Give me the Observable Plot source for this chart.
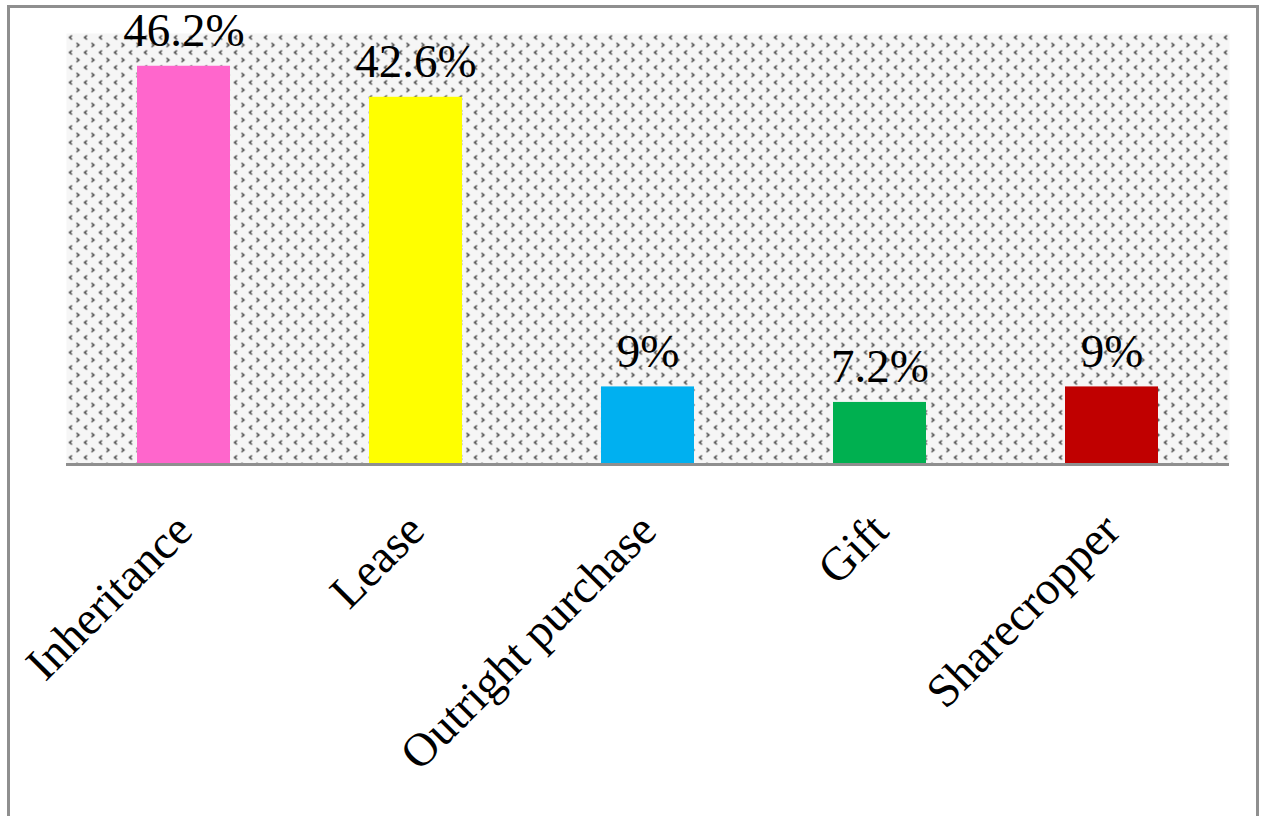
<!DOCTYPE html>
<html>
<head>
<meta charset="utf-8">
<script src="https://cdn.jsdelivr.net/npm/d3@7"></script>
<script src="https://cdn.jsdelivr.net/npm/@observablehq/plot@0.6"></script>
<style>
  html, body { margin: 0; padding: 0; background: #fff; }
  #wrap { position: relative; width: 1264px; height: 816px; overflow: hidden; }
  #border { position: absolute; left: 7px; top: 5px; width: 1252px; height: 820px; border: 3px solid #8f8f8f; box-sizing: border-box; pointer-events: none; }
  #chart { position: absolute; left: 0; top: 0; }
</style>
</head>
<body>
<div id="wrap"><div id="chart"></div><div id="border"></div></div>
<script>
const categories = ["Inheritance", "Lease", "Outright purchase", "Gift", "Sharecropper"];
const values = [46.2, 42.6, 9, 7.2, 9];
const labels = ["46.2%", "42.6%", "9%", "7.2%", "9%"];
const colors = ["#ff66cc", "#ffff00", "#00b0f0", "#00b050", "#c00000"];

const data = categories.map((c, i) => ({category: c, value: values[i], label: labels[i], color: colors[i]}));

const font = "'Liberation Serif', 'Times New Roman', serif";

const plot = Plot.plot({
  width: 1264,
  height: 816,
  marginLeft: 66,
  marginRight: 35,
  marginTop: 33,
  marginBottom: 352,
  style: {fontFamily: font, background: "transparent", color: "#000"},
  x: {domain: categories, paddingInner: 0.6, paddingOuter: 0.3, label: null},
  y: {domain: [0, 50], axis: null},
  marks: [
    Plot.frame({fill: "url(#dotpat)", stroke: "none"}),
    Plot.barY(data, {x: "category", y: "value", fill: "color"}),
    Plot.ruleY([0], {stroke: "#8f8f8f", strokeWidth: 3}),
    Plot.text(data, {x: "category", y: "value", text: "label", lineAnchor: "bottom", dy: -20, fontSize: 47, fill: "#000"}),
    Plot.axisX({tickSize: 0, tickRotate: -45, tickPadding: 58, fontSize: 47, label: null, textAnchor: "end", fill: "#000"})
  ]
});

// pattern definition for plot-area background
const ns = "http://www.w3.org/2000/svg";
const defs = document.createElementNS(ns, "defs");
defs.innerHTML = `
<pattern id="dotpat" patternUnits="userSpaceOnUse" x="66" y="33" width="15" height="15">
  <rect width="15" height="15" fill="#f6f6f6"/>
  <polyline points="5.5,2 3,4 5.5,6" fill="none" stroke="#333" stroke-width="1.3"/>
  <polyline points="10,9.5 12.5,11.5 10,13.5" fill="none" stroke="#333" stroke-width="1.3"/>
</pattern>`;
plot.insertBefore(defs, plot.firstChild);
document.getElementById("chart").appendChild(plot);
</script>
</body>
</html>
